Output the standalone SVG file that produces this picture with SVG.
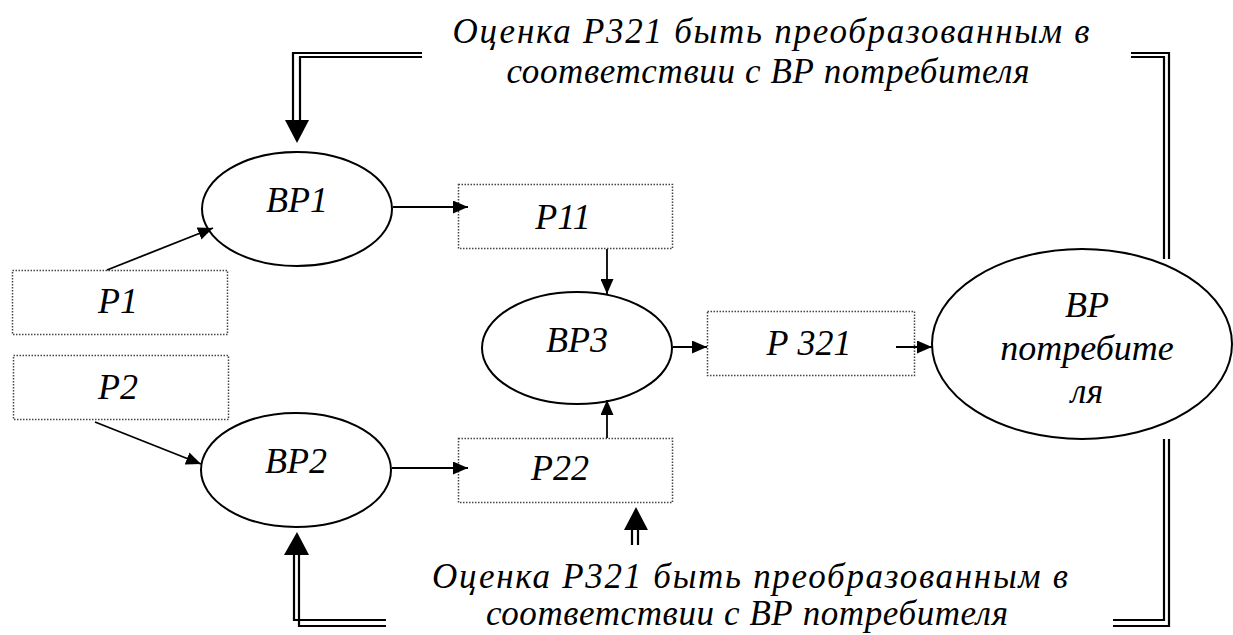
<svg xmlns="http://www.w3.org/2000/svg" width="1233" height="635" viewBox="0 0 1233 635">
<style>
.t{font-family:"Liberation Serif","Times New Roman",serif;font-style:italic;font-size:36px;fill:#000;text-anchor:middle}
.c{font-family:"Liberation Serif","Times New Roman",serif;font-style:italic;font-size:35px;fill:#000;text-anchor:middle}
.e{fill:#fff;stroke:#000;stroke-width:2}
.b{fill:#fff;stroke:#444;stroke-width:1.5;stroke-dasharray:1.5 1.5}
.a{stroke:#000;stroke-width:1.8;fill:none}
.d{stroke:#000;stroke-width:2.2;fill:none}
</style>
<defs>
<marker id="ah" markerWidth="15" markerHeight="13" refX="15" refY="6.5" orient="auto" markerUnits="userSpaceOnUse" viewBox="0 0 15 13">
<path d="M0,0 L15,6.5 L0,13 Z" fill="#000"/>
</marker>
</defs>
<g id="bp1"><ellipse class="e" cx="297" cy="209" rx="95" ry="57"/><text class="t" x="297" y="212">ВР1</text></g>
<g id="bp2"><ellipse class="e" cx="296" cy="470" rx="95" ry="57"/><text class="t" x="296" y="473">ВР2</text></g>
<g id="bp3"><ellipse class="e" cx="577" cy="348" rx="95" ry="56"/><text class="t" x="577" y="352">ВР3</text></g>
<g id="bpc"><ellipse class="e" cx="1082" cy="344" rx="150" ry="95"/>
<text class="t" x="1087" y="317">ВР</text><text class="t" x="1087" y="360">потребите</text><text class="t" x="1087" y="403">ля</text></g>
<g id="p1"><rect class="b" x="12.5" y="270.5" width="215" height="64"/><text class="t" x="118" y="313">Р1</text></g>
<g id="p2"><rect class="b" x="13.5" y="355.5" width="215" height="64"/><text class="t" x="118" y="399">Р2</text></g>
<g id="p11"><rect class="b" x="458.5" y="184.5" width="214" height="64"/><text class="t" x="563" y="229">Р11</text></g>
<g id="p22"><rect class="b" x="458.5" y="438.5" width="214" height="64"/><text class="t" x="560" y="480">Р22</text></g>
<g id="p321"><rect class="b" x="707.5" y="311.5" width="207" height="64"/><text class="t" x="809" y="355">Р 321</text></g>
<g id="label-top"><text class="c" x="771" y="43" textLength="637" lengthAdjust="spacing">Оценка Р321 быть преобразованным в</text><text class="c" x="768" y="83" textLength="523" lengthAdjust="spacing">соответствии с ВР потребителя</text></g>
<g id="label-bottom"><text class="c" x="750" y="588" textLength="636" lengthAdjust="spacing">Оценка Р321 быть преобразованным в</text><text class="c" x="747" y="625" textLength="522" lengthAdjust="spacing">соответствии с ВР потребителя</text></g>
<g id="connectors">
<line class="a" x1="107" y1="270" x2="213" y2="228" marker-end="url(#ah)"/>
<line class="a" x1="95" y1="422" x2="201" y2="464" marker-end="url(#ah)"/>
<line class="a" x1="393" y1="207" x2="468" y2="207" marker-end="url(#ah)"/>
<line class="a" x1="392" y1="468" x2="468" y2="468" marker-end="url(#ah)"/>
<line class="a" x1="607" y1="249" x2="607" y2="294" marker-end="url(#ah)"/>
<line class="a" x1="607" y1="438" x2="607" y2="400" marker-end="url(#ah)"/>
<line class="a" x1="673" y1="347" x2="707" y2="347" marker-end="url(#ah)"/>
<line class="a" x1="896" y1="347" x2="932" y2="347" marker-end="url(#ah)"/>
<path class="d" d="M422,53 H293 V121"/>
<path class="d" d="M422,57 H300 V121"/>
<path d="M285,120 L309,120 L297,143 Z" fill="#000"/>
<path class="d" d="M386,620 H294 V554"/>
<path class="d" d="M386,626 H299 V554"/>
<path d="M284,555 L309,555 L297,532 Z" fill="#000"/>
<path class="d" d="M632,545 V529"/>
<path class="d" d="M638,545 V529"/>
<path d="M624,530 L648,530 L636,507 Z" fill="#000"/>
<path class="d" d="M1131,53 H1169 V259"/>
<path class="d" d="M1131,57 H1164 V259"/>
<path class="d" d="M1169,439 V626 H1113"/>
<path class="d" d="M1164,439 V620 H1113"/>
</g>
</svg>
